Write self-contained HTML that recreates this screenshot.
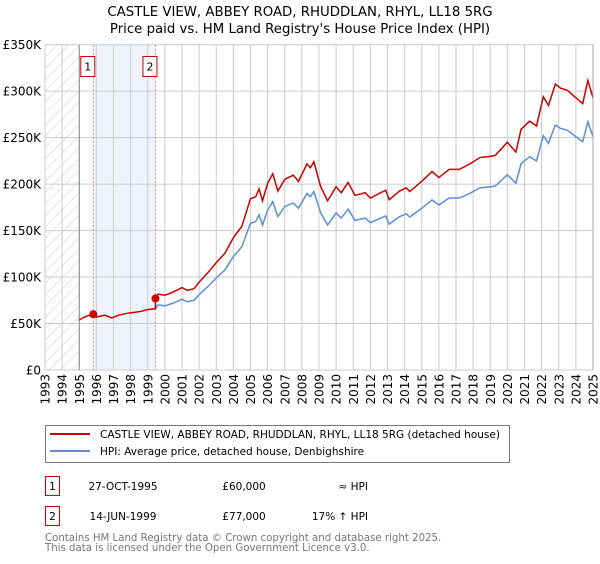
<!DOCTYPE html>
<html><head><meta charset="utf-8"><style>
body{margin:0;background:#fff;width:600px;height:560px;overflow:hidden;font-family:"DejaVu Sans","Liberation Sans",sans-serif;}
svg text{font-family:"DejaVu Sans","Liberation Sans",sans-serif;}
</style></head><body>
<svg id="chart" width="600" height="560" xmlns="http://www.w3.org/2000/svg">
<defs><pattern id="hatch" width="8" height="8" patternUnits="userSpaceOnUse" patternTransform="rotate(45)"><line x1="0" y1="0" x2="0" y2="8" stroke="#ccc" stroke-width="1"/></pattern></defs>
<text x="300" y="16" text-anchor="middle" font-size="13.3">CASTLE VIEW, ABBEY ROAD, RHUDDLAN, RHYL, LL18 5RG</text>
<text x="300" y="33" text-anchor="middle" font-size="13.3">Price paid vs. HM Land Registry's House Price Index (HPI)</text>
<g id="plot"></g>
<g>
<rect x="45.5" y="425.5" width="464" height="37" fill="#fff" stroke="#777"/>
<line x1="50" y1="434" x2="90" y2="434" stroke="#cc0000" stroke-width="2"/>
<text x="100" y="438" font-size="10.5">CASTLE VIEW, ABBEY ROAD, RHUDDLAN, RHYL, LL18 5RG (detached house)</text>
<line x1="50" y1="451" x2="90" y2="451" stroke="#5b8fd6" stroke-width="2"/>
<text x="100" y="455" font-size="10.5">HPI: Average price, detached house, Denbighshire</text>
</g>
<g font-size="10.5">
<rect x="45.5" y="476.5" width="14" height="19" fill="none" stroke="#cc0000"/>
<text x="52.5" y="490" text-anchor="middle">1</text>
<text x="123" y="490" text-anchor="middle">27-OCT-1995</text>
<text x="244" y="490" text-anchor="middle">£60,000</text>
<text x="368" y="490" text-anchor="end">≈ HPI</text>
</g>
<g font-size="10.5">
<rect x="45.5" y="506.5" width="14" height="19" fill="none" stroke="#cc0000"/>
<text x="52.5" y="520" text-anchor="middle">2</text>
<text x="123" y="520" text-anchor="middle">14-JUN-1999</text>
<text x="244" y="520" text-anchor="middle">£77,000</text>
<text x="368" y="520" text-anchor="end">17% ↑ HPI</text>
</g>
<text x="45" y="541" font-size="10.2" fill="#777">Contains HM Land Registry data © Crown copyright and database right 2025.</text>
<text x="45" y="551" font-size="10.2" fill="#777">This data is licensed under the Open Government Licence v3.0.</text>
</svg>
<script>
const hpiYears=[1995.0,1995.3,1995.6,1995.82,1996.0,1996.5,1996.9,1997.3,1997.8,1998.2,1998.6,1999.0,1999.45,1999.6,2000.0,2000.5,2001.0,2001.3,2001.7,2002.0,2002.5,2003.0,2003.5,2004.0,2004.5,2005.0,2005.3,2005.5,2005.7,2006.0,2006.3,2006.6,2007.0,2007.5,2007.8,2008.3,2008.5,2008.7,2009.1,2009.5,2010.0,2010.3,2010.7,2011.1,2011.7,2012.0,2012.6,2012.9,2013.1,2013.7,2014.1,2014.3,2015.0,2015.6,2016.0,2016.6,2017.2,2017.8,2018.4,2019.0,2019.3,2020.0,2020.5,2020.8,2021.3,2021.7,2022.1,2022.4,2022.8,2023.1,2023.5,2024.0,2024.4,2024.7,2025.0];
const hpiValues=[53.8,57,59,60,57,59,56,59,61,62,63,65,66,70,69,72,76,73.5,75,81,89.6,99,107.6,122,132.7,158,159.6,167,156,172,181,165,175.8,179.7,174,190,186.5,192,169,156,169,163.5,173,161,163.5,158.5,163.5,165.7,157,165,168,164.6,174,183,177.5,185,185,190,196,197,198,210,201,222,229.5,225,252,244,263.6,260,258,251,245.7,267,251];
const sales=[{year:1995.82,price:60,label:"1"},{year:1999.45,price:77,label:"2"}];
const yTicks=[0,50,100,150,200,250,300,350];
const xTicks=[1993,1994,1995,1996,1997,1998,1999,2000,2001,2002,2003,2004,2005,2006,2007,2008,2009,2010,2011,2012,2013,2014,2015,2016,2017,2018,2019,2020,2021,2022,2023,2024,2025];
const X0=45,X1=593,Y0=370,Y1=44.7;
function xs(y){return X0+(y-1993)/32*(X1-X0);}
function ys(v){return Y0-v/350*(Y0-Y1);}
const NS="http://www.w3.org/2000/svg";
const g=document.getElementById('plot');
function mk(t,a){const e=document.createElementNS(NS,t);for(const k in a)e.setAttribute(k,a[k]);g.appendChild(e);return e;}
let e;
e=mk('rect',{x:xs(1993),y:Y1,width:xs(1995)-xs(1993),height:Y0-Y1,fill:'url(#hatch)'});


e=mk('rect',{x:xs(sales[0].year),y:Y1,width:xs(sales[1].year)-xs(sales[0].year),height:Y0-Y1,fill:'#eef3fc'});


yTicks.forEach(v=>{
 e=mk('line',{x1:X0,x2:X1,y1:ys(v),y2:ys(v),stroke:'#ccc'});
 
 
 e=mk('text',{x:X0-4,y:ys(v)+4.5,'text-anchor':'end','font-size':'12'});e.textContent=v===0?'£0':'£'+v+'K';
 
 
});
xTicks.forEach(yr=>{
 e=mk('line',{x1:xs(yr),x2:xs(yr),y1:Y1,y2:Y0,stroke:'#ccc'});
 
 
 e=mk('text',{x:0,y:0,'font-size':'12','text-anchor':'end',transform:`translate(${xs(yr)+4.5},374) rotate(-90)`});e.textContent=yr;
 
 
});
e=mk('line',{x1:xs(1995),x2:xs(1995),y1:Y1,y2:Y0,stroke:'#888'});


sales.forEach(s=>{
 e=mk('line',{x1:xs(s.year),x2:xs(s.year),y1:Y1,y2:Y0,stroke:'#f08080','stroke-dasharray':'2,2'});
 
 
 e=mk('rect',{x:xs(s.year)-12.5,y:56.5,width:14,height:20,fill:'#fff',stroke:'#cc0000'});
 
 
 e=mk('text',{x:xs(s.year)-5.5,y:70.5,'text-anchor':'middle','font-size':'11'});e.textContent=s.label;
 
 
});
let bp=[];hpiYears.forEach((yr,i)=>{if(yr>=sales[1].year)bp.push(xs(yr)+','+ys(hpiValues[i]));});
e=mk('polyline',{points:bp.join(' '),fill:'none',stroke:'#5b8fd6','stroke-width':1.5});


const hpiAt=yr=>{for(let i=1;i<hpiYears.length;i++){if(yr<=hpiYears[i]){const t=(yr-hpiYears[i-1])/(hpiYears[i]-hpiYears[i-1]);return hpiValues[i-1]+t*(hpiValues[i]-hpiValues[i-1]);}}return hpiValues[hpiValues.length-1];};
let rp=[];const f1=sales[0].price/hpiAt(sales[0].year),f2=sales[1].price/hpiAt(sales[1].year);
hpiYears.forEach((yr,i)=>{const f=yr<sales[1].year?f1:f2;rp.push(xs(yr)+','+ys(hpiValues[i]*f));if(yr<sales[1].year&&i+1<hpiYears.length&&hpiYears[i+1]>=sales[1].year){rp.push(xs(sales[1].year)+','+ys(hpiAt(sales[1].year)*f1));rp.push(xs(sales[1].year)+','+ys(sales[1].price));}});
e=mk('polyline',{points:rp.join(' '),fill:'none',stroke:'#cc0000','stroke-width':1.5});


sales.forEach(s=>{
 e=mk('circle',{cx:xs(s.year),cy:ys(s.price),r:4,fill:'#cc0000'});
 
 
});
e=mk('line',{x1:X1,x2:X1,y1:Y1,y2:Y0,stroke:'#aaa'});


</script>
</body></html>
